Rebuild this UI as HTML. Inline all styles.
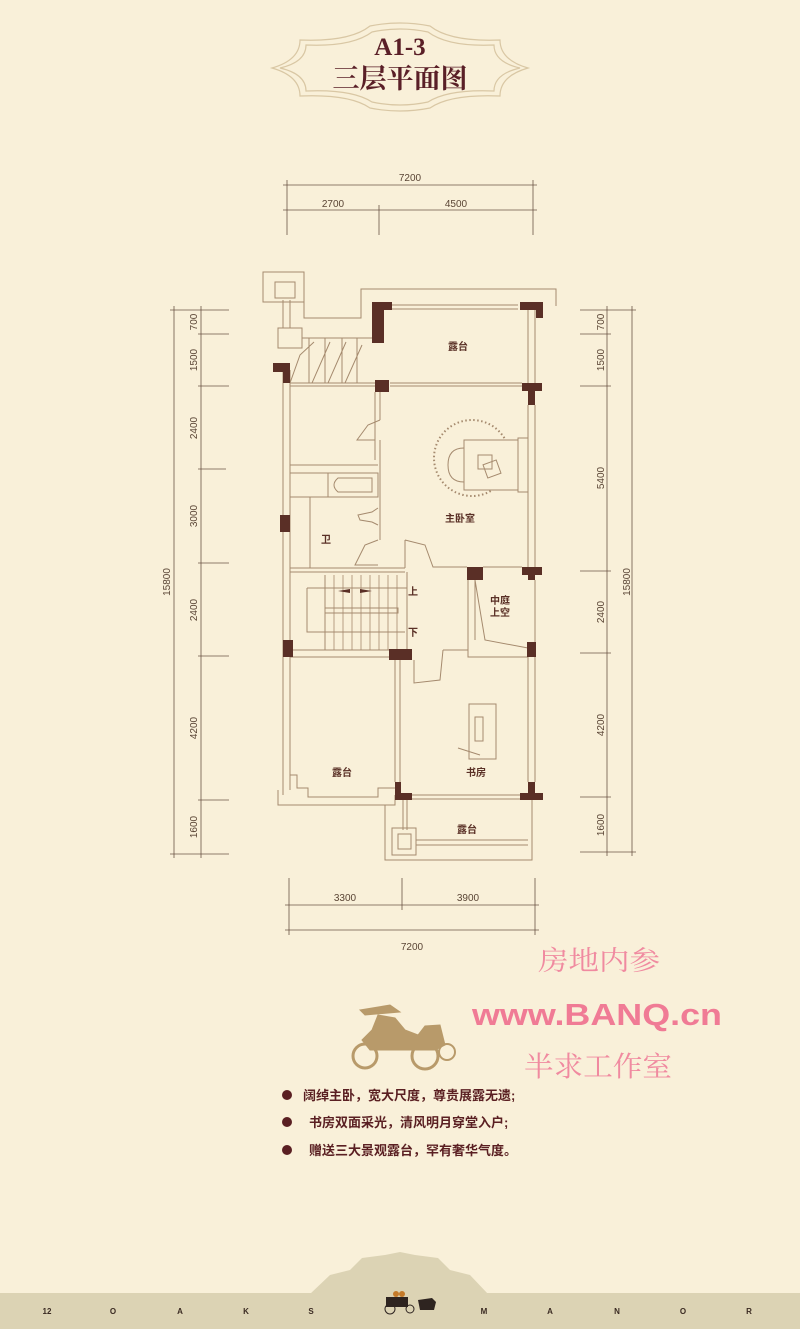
<!DOCTYPE html>
<html><head><meta charset="utf-8"><style>
html,body{margin:0;padding:0;background:#f9f0d9;}
svg{display:block}
text{font-family:"Liberation Sans","Noto Sans CJK SC",sans-serif;}
</style></head><body>
<svg width="800" height="1329" viewBox="0 0 800 1329" xmlns="http://www.w3.org/2000/svg">
<rect width="800" height="1329" fill="#f9f0d9"/>
<!-- title frame -->
<g fill="none" stroke="#d9c7a4" stroke-width="1.2">
<path d="M272 68 Q300 60 300 40 Q350 42 370 26 Q400 20 430 26 Q450 42 500 40 Q500 60 528 68 Q500 76 500 96 Q450 94 430 108 Q400 114 370 108 Q350 94 300 96 Q300 76 272 68Z"/>
<path d="M280 68 Q306 62 306 45 Q352 47 372 32 Q400 26 428 32 Q448 47 494 45 Q494 62 520 68 Q494 74 494 91 Q448 89 428 102 Q400 108 372 102 Q352 89 306 91 Q306 74 280 68Z"/>
</g>
<text x="400" y="55" text-anchor="middle" font-weight="bold" font-size="25" fill="#5a1f27" style="font-family:'Liberation Serif',serif">A1-3</text>
<text x="400" y="88" text-anchor="middle" font-weight="bold" font-size="27" fill="#5a1f27" style="font-family:'Liberation Serif','Noto Serif CJK SC',serif">三层平面图</text>

<!-- dimensions -->
<g stroke="#6b5444" stroke-width="0.8" fill="none">
<line x1="283" y1="185" x2="537" y2="185"/><line x1="283" y1="210" x2="537" y2="210"/>
<line x1="287" y1="180" x2="287" y2="235"/><line x1="379" y1="205" x2="379" y2="235"/><line x1="533" y1="180" x2="533" y2="235"/>
<line x1="285" y1="905" x2="539" y2="905"/><line x1="285" y1="930" x2="539" y2="930"/>
<line x1="289" y1="878" x2="289" y2="935"/><line x1="402" y1="878" x2="402" y2="910"/><line x1="535" y1="878" x2="535" y2="935"/>
<line x1="174" y1="306" x2="174" y2="858"/><line x1="201" y1="306" x2="201" y2="858"/>
<line x1="170" y1="310" x2="229" y2="310"/><line x1="198" y1="334" x2="229" y2="334"/><line x1="198" y1="386" x2="229" y2="386"/>
<line x1="198" y1="469" x2="226" y2="469"/><line x1="198" y1="563" x2="229" y2="563"/><line x1="198" y1="656" x2="229" y2="656"/>
<line x1="198" y1="800" x2="229" y2="800"/><line x1="170" y1="854" x2="229" y2="854"/>
<line x1="607" y1="306" x2="607" y2="856"/><line x1="632" y1="306" x2="632" y2="856"/>
<line x1="580" y1="310" x2="636" y2="310"/><line x1="580" y1="334" x2="611" y2="334"/><line x1="580" y1="386" x2="611" y2="386"/>
<line x1="580" y1="571" x2="611" y2="571"/><line x1="580" y1="653" x2="611" y2="653"/><line x1="580" y1="797" x2="611" y2="797"/><line x1="580" y1="852" x2="636" y2="852"/>
</g>
<g font-size="10" fill="#5a4535">
<text x="410" y="181" text-anchor="middle">7200</text>
<text x="333" y="207" text-anchor="middle">2700</text>
<text x="456" y="207" text-anchor="middle">4500</text>
<text x="345" y="901" text-anchor="middle">3300</text>
<text x="468" y="901" text-anchor="middle">3900</text>
<text x="412" y="950" text-anchor="middle">7200</text>
<g text-anchor="middle">
<text transform="translate(170,582) rotate(-90)">15800</text>
<text transform="translate(197,322) rotate(-90)">700</text>
<text transform="translate(197,360) rotate(-90)">1500</text>
<text transform="translate(197,428) rotate(-90)">2400</text>
<text transform="translate(197,516) rotate(-90)">3000</text>
<text transform="translate(197,610) rotate(-90)">2400</text>
<text transform="translate(197,728) rotate(-90)">4200</text>
<text transform="translate(197,827) rotate(-90)">1600</text>
<text transform="translate(604,322) rotate(-90)">700</text>
<text transform="translate(604,360) rotate(-90)">1500</text>
<text transform="translate(604,478) rotate(-90)">5400</text>
<text transform="translate(604,612) rotate(-90)">2400</text>
<text transform="translate(604,725) rotate(-90)">4200</text>
<text transform="translate(604,825) rotate(-90)">1600</text>
<text transform="translate(630,582) rotate(-90)">15800</text>
</g></g>

<!-- plan -->
<g fill="none" stroke="#a58a6e" stroke-width="1">
<rect x="263" y="272" width="41" height="30"/><rect x="275" y="282" width="20" height="16"/>
<path d="M304 272 L304 318 L361 318 L361 289 L556 289 L556 306"/>
<rect x="278" y="328" width="24" height="20"/>
<line x1="283" y1="300" x2="283" y2="328"/><line x1="290" y1="300" x2="290" y2="328"/>
<line x1="283" y1="365" x2="283" y2="795"/><line x1="290" y1="370" x2="290" y2="790"/>
<line x1="302" y1="338" x2="372" y2="338"/>
<line x1="309" y1="338" x2="309" y2="383"/><line x1="325" y1="338" x2="325" y2="383"/><line x1="342" y1="338" x2="342" y2="383"/><line x1="357" y1="338" x2="357" y2="383"/>
<path d="M290 383 L300 355 L314 342 M312 383 L330 342 M328 383 L346 342 M345 383 L362 345"/>
<line x1="290" y1="383" x2="375" y2="383"/><line x1="290" y1="386" x2="375" y2="386"/>
<line x1="392" y1="305" x2="518" y2="305"/><line x1="392" y1="309" x2="518" y2="309"/>
<line x1="528" y1="310" x2="528" y2="383"/><line x1="535" y1="310" x2="535" y2="383"/>
<line x1="390" y1="383" x2="522" y2="383"/><line x1="390" y1="386" x2="522" y2="386"/>
<line x1="528" y1="405" x2="528" y2="567"/><line x1="535" y1="405" x2="535" y2="567"/>
<line x1="375" y1="392" x2="375" y2="440"/><line x1="380" y1="392" x2="380" y2="420"/>
<path d="M380 420 L368 425 L357 440 L375 440 M375 440 L375 460 M380 440 L380 540"/>
<line x1="290" y1="465" x2="378" y2="465"/><line x1="290" y1="473" x2="378" y2="473"/>
<rect x="328" y="473" width="50" height="24"/><path d="M338 478 L372 478 L372 492 L338 492 Q330 485 338 478Z"/>
<line x1="290" y1="497" x2="378" y2="497"/><line x1="310" y1="497" x2="310" y2="568"/>
<path d="M378 508 L372 512 L358 515 L360 520 L372 522 L378 525"/>
<path d="M378 540 L365 545 L355 565 L378 565"/>
<line x1="290" y1="568" x2="405" y2="568"/><line x1="290" y1="572" x2="405" y2="572"/>
<path d="M405 540 L405 568 M405 540 L425 545 L433 567 L467 567"/>
<line x1="483" y1="567" x2="522" y2="567"/>
<line x1="325" y1="575" x2="325" y2="650"/><line x1="407" y1="572" x2="407" y2="650"/>
<g stroke-width="0.8"><line x1="334" y1="575" x2="334" y2="650"/><line x1="343" y1="575" x2="343" y2="650"/><line x1="352" y1="575" x2="352" y2="650"/><line x1="361" y1="575" x2="361" y2="650"/><line x1="370" y1="575" x2="370" y2="650"/><line x1="379" y1="575" x2="379" y2="650"/><line x1="388" y1="575" x2="388" y2="650"/><line x1="397" y1="575" x2="397" y2="650"/></g>
<path d="M307 588 L407 588 M307 588 L307 632 L405 632"/>
<rect x="325" y="608" width="73" height="5"/>
<line x1="290" y1="650" x2="389" y2="650"/><line x1="290" y1="657" x2="389" y2="657"/>
<line x1="468" y1="580" x2="468" y2="650"/><line x1="475" y1="580" x2="475" y2="640"/>
<path d="M475 580 L485 640 L528 648 M443 650 L468 650 L468 657 L528 657 M443 650 L440 680 L414 683 L414 660"/>
<line x1="395" y1="660" x2="395" y2="782"/><line x1="400" y1="660" x2="400" y2="782"/>
<rect x="469" y="704" width="27" height="55"/><rect x="475" y="717" width="8" height="24"/>
<line x1="458" y1="748" x2="480" y2="755"/>
<path d="M290 775 L297 775 L297 788 L308 788 L308 797 L378 797 L378 788 L395 788 M278 790 L278 805 L395 805 L395 795"/>
<line x1="412" y1="795" x2="520" y2="795"/><line x1="412" y1="799" x2="520" y2="799"/>
<line x1="403" y1="800" x2="403" y2="830"/><line x1="407" y1="800" x2="407" y2="830"/>
<path d="M385 805 L385 860 L532 860 L532 800"/><line x1="416" y1="840" x2="528" y2="840"/><line x1="416" y1="845" x2="528" y2="845"/>
<rect x="392" y="828" width="24" height="27"/><rect x="398" y="834" width="13" height="15"/>
<line x1="528" y1="657" x2="528" y2="782"/><line x1="535" y1="657" x2="535" y2="782"/><line x1="535" y1="580" x2="535" y2="645"/>
<circle cx="472" cy="458" r="38" stroke-dasharray="1.5 2.5" stroke-width="2"/>
<rect x="464" y="440" width="54" height="50" fill="#f9f0d9"/>
<path d="M464 448 Q448 448 448 465 Q448 482 464 482" />
<rect x="478" y="455" width="14" height="14"/><rect x="485" y="462" width="14" height="14" transform="rotate(-20 492 469)"/>
<rect x="518" y="438" width="10" height="54"/>
</g>
<g fill="#5a2f26">
<path d="M372 302 L392 302 L392 310 L384 310 L384 343 L372 343Z"/>
<path d="M520 302 L543 302 L543 318 L536 318 L536 310 L520 310Z"/>
<rect x="273" y="363" width="17" height="9"/><rect x="283" y="363" width="7" height="20"/>
<rect x="375" y="380" width="14" height="12"/>
<path d="M522 383 L542 383 L542 391 L535 391 L535 405 L528 405 L528 391 L522 391Z"/>
<rect x="280" y="515" width="10" height="17"/>
<rect x="467" y="567" width="16" height="13"/><path d="M522 567 L542 567 L542 575 L535 575 L535 580 L528 580 L528 575 L522 575Z"/>
<rect x="283" y="640" width="10" height="17"/><rect x="389" y="649" width="23" height="11"/>
<rect x="527" y="642" width="9" height="15"/>
<path d="M395 782 L401 782 L401 793 L412 793 L412 800 L395 800Z"/>
<path d="M528 782 L535 782 L535 793 L543 793 L543 800 L520 800 L520 793 L528 793Z"/>
<path d="M338 591 L350 589 L350 593Z M372 591 L360 589 L360 593Z"/>
</g>
<g font-size="10" font-weight="bold" fill="#5a3026">
<text x="448" y="350">露台</text><text x="445" y="522">主卧室</text><text x="321" y="543">卫</text>
<text x="408" y="595">上</text><text x="408" y="636">下</text>
<text x="490" y="604">中庭</text><text x="490" y="616">上空</text>
<text x="332" y="776">露台</text><text x="466" y="776">书房</text><text x="457" y="833">露台</text>
</g>

<!-- watermark -->
<text x="538" y="970" font-size="27" fill="#f08aa0" textLength="122" lengthAdjust="spacingAndGlyphs" style="font-family:'Noto Serif CJK SC',serif">房地内参</text>
<text x="472" y="1025" font-size="31" font-weight="bold" fill="#f07b95" textLength="250" lengthAdjust="spacingAndGlyphs">www.BANQ.cn</text>
<text x="524" y="1076" font-size="28" fill="#f08aa0" textLength="148" lengthAdjust="spacingAndGlyphs" style="font-family:'Noto Serif CJK SC',serif">半求工作室</text>

<!-- car -->
<g fill="#b89a6a" stroke="#b89a6a">
<path d="M362 1040 L372 1030 L378 1015 L395 1018 L405 1030 L418 1035 L425 1026 L440 1025 L445 1045 L435 1050 L370 1050Z"/>
<path d="M360 1010 L390 1005 L400 1012 L365 1015Z"/>
<circle cx="365" cy="1056" r="12" fill="none" stroke-width="3"/><circle cx="425" cy="1056" r="13" fill="none" stroke-width="3"/><circle cx="447" cy="1052" r="8" fill="none" stroke-width="2"/>
</g>

<!-- bullets -->
<g font-size="13" font-weight="bold" fill="#5a1f22" style="font-family:'Liberation Serif','Noto Serif CJK SC',serif">
<circle cx="287" cy="1095" r="5"/><circle cx="287" cy="1122" r="5"/><circle cx="287" cy="1150" r="5"/>
<text x="303" y="1100">阔绰主卧，宽大尺度，尊贵展露无遗;</text>
<text x="309" y="1127">书房双面采光，清风明月穿堂入户;</text>
<text x="309" y="1155">赠送三大景观露台，罕有奢华气度。</text>
</g>

<!-- footer -->
<path d="M310 1294 L330 1275 L350 1270 L362 1258 L385 1255 L400 1252 L415 1255 L438 1258 L450 1270 L470 1275 L488 1294Z" fill="#dcd3b4"/>
<rect x="0" y="1293" width="800" height="36" fill="#dcd3b4"/>
<g font-size="8" font-weight="bold" fill="#3a2a22" text-anchor="middle" style="font-family:'Liberation Serif',serif">
<text x="47" y="1314">12</text><text x="113" y="1314">O</text><text x="180" y="1314">A</text><text x="246" y="1314">K</text><text x="311" y="1314">S</text>
<text x="484" y="1314">M</text><text x="550" y="1314">A</text><text x="617" y="1314">N</text><text x="683" y="1314">O</text><text x="749" y="1314">R</text>
</g>
<g fill="#2e2420"><rect x="386" y="1297" width="22" height="10"/><circle cx="390" cy="1309" r="5" fill="none" stroke="#2e2420"/><circle cx="410" cy="1309" r="4" fill="none" stroke="#2e2420"/><path d="M418 1300 L432 1298 L436 1302 L434 1310 L420 1310Z"/></g>
<g fill="#c47a2a"><circle cx="396" cy="1294" r="3"/><circle cx="402" cy="1294" r="3"/></g>
</svg>
</body></html>
